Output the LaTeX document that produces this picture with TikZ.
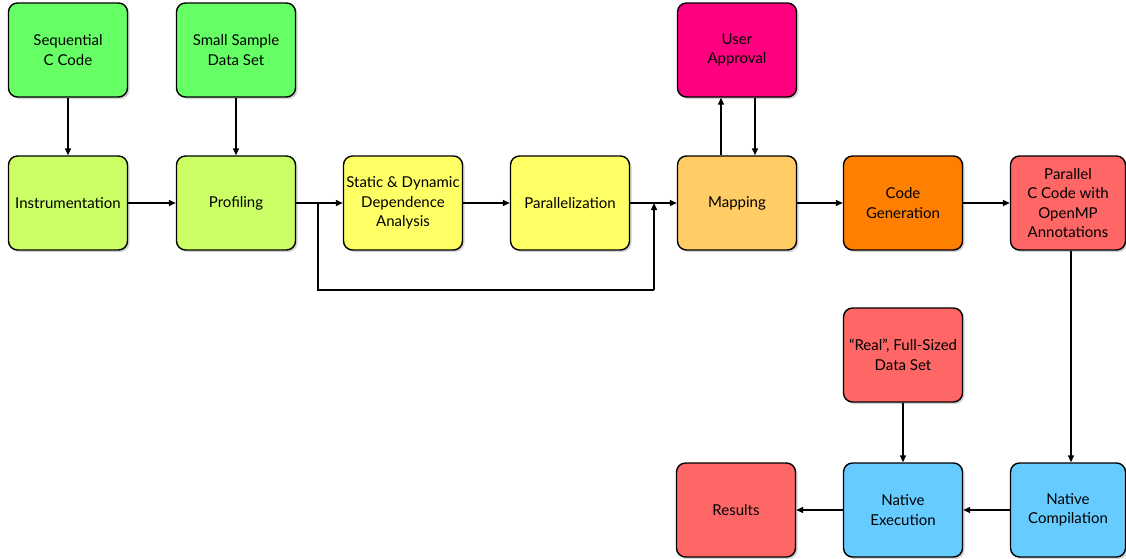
\documentclass[tikz,border=0pt]{standalone}
\usepackage{fontspec}
\setmainfont{Lato}
\usetikzlibrary{shadows,arrows.meta}
\definecolor{cgreen}{HTML}{66FF66}
\definecolor{clime}{HTML}{CCFF66}
\definecolor{cyellow}{HTML}{FFFF66}
\definecolor{corange}{HTML}{FFCC66}
\definecolor{cdorange}{HTML}{FF8000}
\definecolor{cred}{HTML}{FF6666}
\definecolor{cpink}{HTML}{FF0080}
\definecolor{cblue}{HTML}{66CCFF}
\begin{document}
\begin{tikzpicture}[x=1pt,y=-1pt,
  box/.style={draw=black,line width=1.4pt,rounded corners=9pt,minimum width=119pt,minimum height=94pt,
    align=center,font=\fontsize{15}{19.5}\selectfont,inner sep=1pt,
    drop shadow={shadow xshift=2pt,shadow yshift=-2pt,opacity=0.35}},
  arr/.style={line width=1.4pt,-{Triangle[length=7pt,width=6pt]}},
  ln/.style={line width=1.4pt}]
\useasboundingbox (0,0) rectangle (1126,558);
\node[box,fill=cgreen] (seq) at (68,50) {Sequential\\C Code};
\node[box,fill=cgreen] (small) at (236,50) {Small Sample\\Data Set};
\node[box,fill=clime] (instr) at (68,203) {Instrumentation};
\node[box,fill=clime] (prof) at (236,203) {Profiling};
\node[box,fill=cyellow] (sdda) at (403,203) {Static \& Dynamic\\Dependence\\Analysis};
\node[box,fill=cyellow] (par) at (570,203) {Parallelization};
\node[box,fill=corange] (map) at (737,203) {Mapping};
\node[box,fill=cpink] (user) at (737,50) {User\\Approval};
\node[box,fill=cdorange] (cg) at (903,203) {Code\\Generation};
\node[box,fill=cred,minimum width=115pt] (pcc) at (1068,203) {Parallel\\C Code with\\OpenMP\\Annotations};
\node[box,fill=cred] (real) at (903,355) {``Real'', Full-Sized\\Data Set};
\node[box,fill=cred] (res) at (736,510) {Results};
\node[box,fill=cblue] (nexe) at (903,510) {Native\\Execution};
\node[box,fill=cblue,minimum width=115pt] (ncomp) at (1068,510) {Native\\Compilation};

\coordinate (b1) at (318,203);
\coordinate (b2) at (318,290);
\coordinate (b3) at (654,290);
\coordinate (b4) at (654,203);

\draw[arr] (seq) -- (instr);
\draw[arr] (small) -- (prof);
\draw[arr] (instr) -- (prof);
\draw[arr] (prof) -- (sdda);
\draw[arr] (sdda) -- (par);
\draw[arr] (par) -- (map);
\draw[ln] (b1) -- (b2) -- (b3);
\draw[arr] (b3) -- (b4);
\draw[arr] (map.north -| 721,0) -- (user.south -| 721,0);
\draw[arr] (user.south -| 755,0) -- (map.north -| 755,0);
\draw[arr] (map) -- (cg);
\draw[arr] (cg) -- (pcc);
\draw[arr] (pcc.south -| 1071,0) -- (ncomp.north -| 1071,0);
\draw[arr] (real) -- (nexe);
\draw[arr] (ncomp) -- (nexe);
\draw[arr] (nexe) -- (res);
\end{tikzpicture}
\end{document}
